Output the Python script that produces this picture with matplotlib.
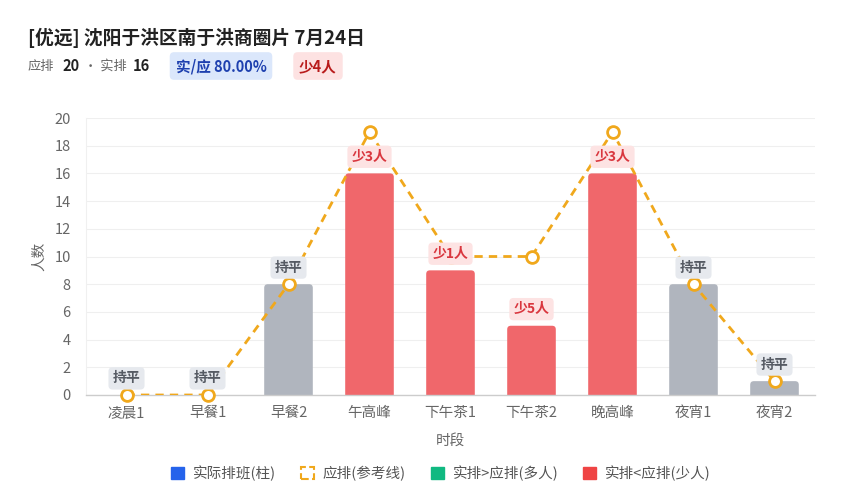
import matplotlib
matplotlib.use("Agg")
import matplotlib.pyplot as plt
from matplotlib.patches import FancyBboxPatch, Patch
import numpy as np

plt.rcParams['font.family'] = ['Noto Sans CJK SC', 'DejaVu Sans']

categories = ['凌晨1', '早餐1', '早餐2', '午高峰', '下午茶1', '下午茶2', '晚高峰', '夜宵1', '夜宵2']
expected = [0, 0, 8, 19, 10, 10, 19, 8, 1]
actual = [0, 0, 8, 16, 9, 5, 16, 8, 1]
status_labels = ['持平', '持平', '持平', '少3人', '少1人', '少5人', '少3人', '持平', '持平']
yticks = [0, 2, 4, 6, 8, 10, 12, 14, 16, 18, 20]

title = '[优远] 沈阳于洪区南于洪商圈片 7月24日'
legend_labels = ['实际排班(柱)', '应排(参考线)', '实排>应排(多人)', '实排<应排(少人)']

RED = '#f0676b'
GRAY = '#b0b5be'
ORANGE = '#f0a81c'

fig = plt.figure(figsize=(8.49, 5.0), dpi=100)
ax = fig.add_axes([86/849, 1-395/500, 729/849, 277/500])

x = np.arange(len(categories))
ax.set_xlim(-0.5, len(categories) - 0.5)
ax.set_ylim(0, 20)

bw = 0.6
rx = 0.045
ry = rx * 5.86
for xi, a, e in zip(x, actual, expected):
    if a <= 0:
        continue
    col = RED if a < e else (GRAY if a == e else '#10b981')
    p = FancyBboxPatch((xi - bw/2 + rx, -ry*3), bw - 2*rx, a + ry*2,
                       boxstyle=f"round,pad={rx},rounding_size={rx}",
                       mutation_aspect=ry/rx, fc=col, ec='none', zorder=2)
    p.set_clip_on(True)
    ax.add_patch(p)

ax.plot(x, expected, color=ORANGE, ls='--', dashes=(3, 2.2), lw=2, zorder=3)
ax.plot(x, expected, ls='none', marker='o', ms=8.5, mfc='white', mec=ORANGE, mew=2,
        zorder=4, clip_on=False)

for xi, a, lab in zip(x, actual, status_labels):
    if lab.startswith('少'):
        fc, tc = '#fde3e3', '#d9363e'
    elif lab.startswith('多'):
        fc, tc = '#d6f5e8', '#0d8a5f'
    else:
        fc, tc = '#e6e9ee', '#555a63'
    ax.text(xi, a + 1.2, lab, ha='center', va='center', fontsize=10, fontweight='bold',
            color=tc, zorder=5,
            bbox=dict(boxstyle='round,pad=0.3,rounding_size=0.3', fc=fc, ec='none'))

ax.set_yticks(yticks)
ax.set_xticks(x)
ax.set_xticklabels(categories)
ax.tick_params(axis='both', length=0, labelsize=10.5, labelcolor='#666666')
ax.tick_params(axis='y', pad=11)
ax.tick_params(axis='x', pad=8)
ax.grid(axis='y', color='#efefef', lw=0.8, zorder=0)
ax.set_axisbelow(True)
for s in ['top', 'right']:
    ax.spines[s].set_visible(False)
ax.spines['left'].set_color('#f0f0f0')
ax.spines['bottom'].set_color('#cccccc')
ax.spines['bottom'].set_linewidth(1.0)
ax.set_ylabel('人数', fontsize=10.5, color='#666666', labelpad=6)
ax.set_xlabel('时段', fontsize=10.5, color='#666666', labelpad=10)

# Title and subtitle
fig.text(28/849, 1-38/500, title, fontsize=13.5, fontweight='bold', color='#222222', va='center')
sy = 1 - 66/500
fig.text(28/849, sy, '应排', fontsize=9.5, color='#666666', va='center')
fig.text(62/849, sy, '20', fontsize=10.5, fontweight='bold', color='#222222', va='center')
fig.text(84/849, sy, '· 实排', fontsize=9.5, color='#666666', va='center')
fig.text(133/849, sy, '16', fontsize=10.5, fontweight='bold', color='#222222', va='center')
fig.text(221/849, sy, '实/应 80.00%', fontsize=10.5, fontweight='bold', color='#1e40af',
         ha='center', va='center',
         bbox=dict(boxstyle='round,pad=0.4,rounding_size=0.3', fc='#dbe7fb', ec='none'))
fig.text(318/849, sy, '少4人', fontsize=10.5, fontweight='bold', color='#b91c1c',
         ha='center', va='center',
         bbox=dict(boxstyle='round,pad=0.4,rounding_size=0.3', fc='#fde2e2', ec='none'))

handles = [
    Patch(fc='#2563eb', ec='#2563eb'),
    Patch(fc='white', ec=ORANGE, ls='--', lw=1.5),
    Patch(fc='#10b981', ec='#10b981'),
    Patch(fc='#ef4444', ec='#ef4444'),
]
leg = fig.legend(handles, legend_labels, loc='center', bbox_to_anchor=(441/849, 1-473/500),
                 ncol=4, frameon=False, fontsize=10.5, handlelength=0.9, handleheight=0.9,
                 handletextpad=0.6, columnspacing=1.7, labelcolor='#555555')

fig.savefig('out.png', dpi=100, facecolor='white')
